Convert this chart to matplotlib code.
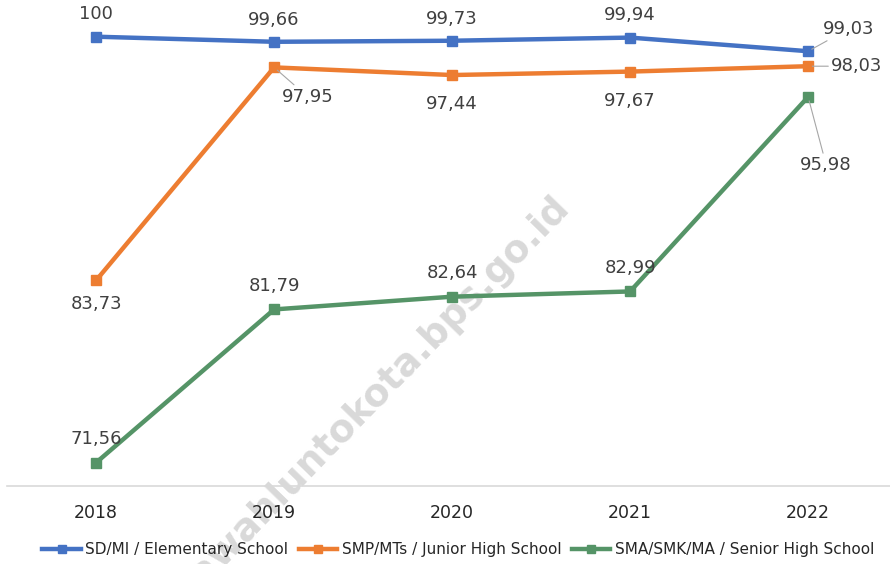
import matplotlib.pyplot as plt

years = ["2018", "2019", "2020", "2021", "2022"]
sd = [100, 99.66, 99.73, 99.94, 99.03]
smp = [83.73, 97.95, 97.44, 97.67, 98.03]
sma = [71.56, 81.79, 82.64, 82.99, 95.98]
names = ["SD/MI / Elementary School", "SMP/MTs / Junior High School",
         "SMA/SMK/MA / Senior High School"]

colors = ["#4472C4", "#ED7D31", "#559467"]

fig = plt.figure(figsize=(8.9, 5.64), dpi=100)
ax = fig.add_axes([0.008, 0.1383, 1.0, 0.8617])
ax.patch.set_visible(False)
x = list(range(len(years)))

for vals, c, n in zip([sd, smp, sma], colors, names):
    ax.plot(x, vals, color=c, lw=3.2, marker="s", ms=7, label=n, zorder=3)

def fmt(v):
    return f"{v:g}".replace(".", ",")

def label(i, v, dx, dy, leader=False):
    ax.annotate(fmt(v), xy=(i, v), xytext=(dx, dy), textcoords="offset points",
                ha="center", va="center", fontsize=13, color="#404040",
                arrowprops=dict(arrowstyle="-", color="#a6a6a6", lw=0.8,
                                shrinkA=0, shrinkB=3) if leader else None)

for i, v in enumerate(sd[:-1]):
    label(i, v, 0, 16)
label(4, sd[4], 29, 16, leader=True)

label(0, smp[0], 0, -17)
label(1, smp[1], 24, -21, leader=True)
for i in (2, 3):
    label(i, smp[i], 0, -21)
label(4, smp[4], 35, 0, leader=True)

for i, v in enumerate(sma[:-1]):
    label(i, v, 0, 17)
label(4, sma[4], 13, -49, leader=True)

ax.set_xlim(-0.5, 4.5)
ax.set_ylim(70, 102.45)
ax.set_xticks(x)
ax.set_xticklabels(years, fontsize=12.5, color="#262626")
ax.tick_params(axis="x", length=0, pad=13)
ax.set_yticks([])
for s in ["left", "right", "top"]:
    ax.spines[s].set_visible(False)
ax.spines["bottom"].set_color("#d9d9d9")
ax.spines["bottom"].set_linewidth(1.2)

leg = fig.legend(loc="center", bbox_to_anchor=(0.515, 0.025), ncol=3,
                 frameon=False, prop={"size": 11},
                 handlelength=2.5, columnspacing=0.7, handletextpad=0.3,
                 markerscale=0.8)
for t in leg.get_texts():
    t.set_color("#262626")

# watermark, behind the lines
fig.text(0.418, 0.292, "sawahluntokota.bps.go.id", rotation=45.8, fontsize=27,
         fontweight="bold", color="#d9d9d9", ha="center", va="center",
         rotation_mode="anchor", zorder=-1)

plt.savefig("out.png", dpi=100)
